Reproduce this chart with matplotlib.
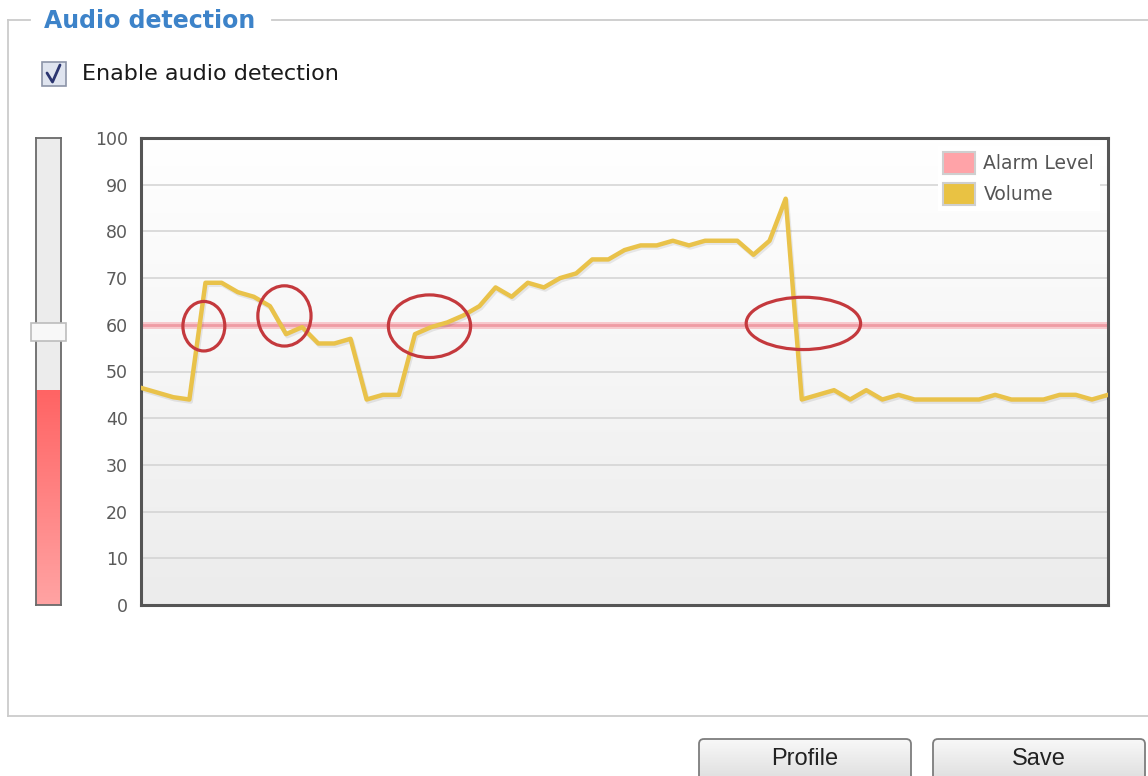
import numpy as np
import matplotlib.pyplot as plt
import matplotlib.patheffects as pe
from matplotlib.colors import LinearSegmentedColormap
from matplotlib.patches import Rectangle, FancyBboxPatch, Ellipse, Patch

W, H = 1148, 776

# volume samples, one per tick of the monitor
volume = [46.5, 45.5, 44.5, 44, 69, 69, 67, 66, 64, 58,
          59.5, 56, 56, 57, 44, 45, 45, 58, 59.5, 60.5,
          62, 64, 68, 66, 69, 68, 70, 71, 74, 74,
          76, 77, 77, 78, 77, 78, 78, 78, 75, 78,
          87, 44, 45, 46, 44, 46, 44, 45, 44, 44,
          44, 44, 44, 45, 44, 44, 44, 45, 45, 44, 45]
alarm_level = 60
current_level = 46
y_ticks = [0, 10, 20, 30, 40, 50, 60, 70, 80, 90, 100]
legend_labels = ['Alarm Level', 'Volume']
buttons = ['Profile', 'Save']

# crossings of the alarm level that are circled (sample, level, width, height)
marks_x = [3.9, 8.9, 17.9, 41.1]
marks_y = [59.7, 61.9, 59.7, 60.3]
marks_w = [2.6, 3.3, 5.1, 7.1]
marks_h = [10.6, 12.9, 13.4, 11.2]

fig = plt.figure(figsize=(W / 100, H / 100), dpi=100)
fig.patch.set_facecolor('white')

# page layer in pixel coordinates
bg = fig.add_axes([0, 0, 1, 1], zorder=0)
bg.set_xlim(0, W)
bg.set_ylim(H, 0)
bg.axis('off')

border = '#cbcbcb'
bg.plot([8, 30], [20, 20], color=border, lw=1.3)
bg.plot([272, W], [20, 20], color=border, lw=1.3)
bg.plot([8, 8], [20, 716], color=border, lw=1.3)
bg.plot([8, W], [716, 716], color=border, lw=1.3)
bg.text(44, 21, 'Audio detection', color='#3d83c9', fontsize=17,
        fontweight='bold', ha='left', va='center')

# checkbox
bg.add_patch(Rectangle((42, 62), 24, 24, facecolor='#dfe4ef',
                       edgecolor='#8c94a8', lw=1.2))
bg.plot([47, 52.5, 60], [73, 82, 65], color='#2b3570', lw=2,
        solid_capstyle='round', solid_joinstyle='round')
bg.text(82, 74, 'Enable audio detection', fontsize=16, color='#1a1a1a',
        ha='left', va='center')

# buttons
btn_cmap = LinearSegmentedColormap.from_list('btn', ['#f8f8f8', '#d9d9d9'])
for label, x0 in zip(buttons, [699, 933]):
    box = FancyBboxPatch((x0, 739), 212, 50,
                         boxstyle='round,pad=0,rounding_size=5',
                         facecolor='none', edgecolor='#7d7d7d', lw=1.3,
                         zorder=3)
    bg.add_patch(box)
    im = bg.imshow(np.linspace(0, 1, 50).reshape(-1, 1), cmap=btn_cmap,
                   extent=(x0, x0 + 212, 789, 739), aspect='auto', zorder=2)
    im.set_clip_path(box)
    bg.text(x0 + 106, 759, label, fontsize=17, family='Liberation Sans',
            color='#222222', ha='center', va='center', zorder=4)
bg.set_xlim(0, W)
bg.set_ylim(H, 0)

# level meter with alarm slider
sl = fig.add_axes([36 / W, (H - 605) / H, 25 / W, 467 / H], zorder=1)
sl.set_xlim(0, 1)
sl.set_ylim(0, 100)
sl.set_facecolor('#ececec')
sl.set_xticks([])
sl.set_yticks([])
for s in sl.spines.values():
    s.set_color('#6a6a6a')
    s.set_linewidth(1.3)
red_cmap = LinearSegmentedColormap.from_list('lvl', ['#ffa3a3', '#ff6464'])
sl.imshow(np.linspace(0, 1, 100).reshape(-1, 1), cmap=red_cmap, origin='lower',
          extent=(0, 1, 0, current_level), aspect='auto', zorder=1)
sl.add_patch(Rectangle((-0.2, alarm_level - 3.5), 1.4, 3.8, facecolor='#f8f8f8',
                       edgecolor='#bdbdbd', lw=1.2, clip_on=False, zorder=5))

# main chart
ax = fig.add_axes([141 / W, (H - 605) / H, 967 / W, 467 / H], zorder=1)
x = np.arange(len(volume))
ax.set_xlim(0, len(volume) - 1)
ax.set_ylim(0, 100)
grad = LinearSegmentedColormap.from_list('bgv', ['#ececec', '#ffffff'])
ax.imshow(np.linspace(0, 1, 100).reshape(-1, 1), cmap=grad, origin='lower',
          extent=(0, len(volume) - 1, 0, 100), aspect='auto', zorder=0)
ax.set_yticks(y_ticks)
ax.set_xticks([])
ax.yaxis.grid(True, color='#d2d2d2', lw=1.1)
ax.tick_params(axis='y', length=0, pad=9.5, labelsize=12.5, labelcolor='#5a5a5a')
for s in ax.spines.values():
    s.set_color('#555555')
    s.set_linewidth(2.2)

ax.axhline(alarm_level, color='#f8c8cc', lw=5, zorder=2)
ax.axhline(alarm_level, color='#ef9ca4', lw=2, zorder=2)
ax.plot(x, volume, color='#e9c24a', lw=3.2, solid_joinstyle='round', zorder=3,
        path_effects=[pe.SimpleLineShadow(offset=(1, -1.5), shadow_color='k',
                                          alpha=0.08), pe.Normal()])

for mx, my, mw, mh in zip(marks_x, marks_y, marks_w, marks_h):
    ax.add_patch(Ellipse((mx, my), mw, mh, fill=False, edgecolor='#c4393d',
                         lw=2.3, zorder=5))

handles = [Patch(facecolor='#ffa3a8', edgecolor='#cfcfcf', lw=1.5),
           Patch(facecolor='#e9c243', edgecolor='#cfcfcf', lw=1.5)]
leg = ax.legend(handles, legend_labels, loc='upper left',
                bbox_to_anchor=(0.814, 1.002), frameon=True, facecolor='white',
                edgecolor='none', framealpha=1, fancybox=False, fontsize=13.5,
                handlelength=1.7, handleheight=1.45, handletextpad=0.45,
                labelspacing=0.45, borderpad=0.3, labelcolor='#555555')

fig.savefig('out.png', dpi=100)
